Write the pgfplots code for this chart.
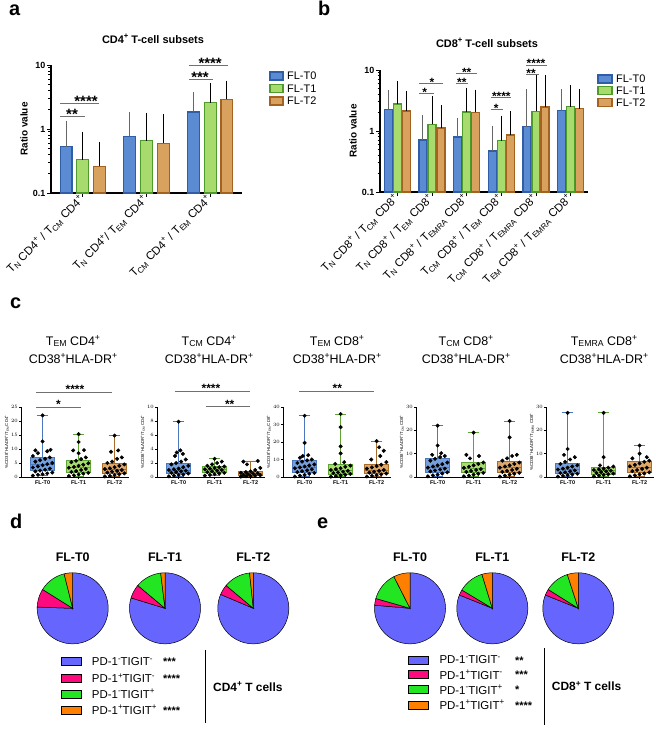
\documentclass[border=0pt]{standalone}
\usepackage{pgfplots}
\pgfplotsset{compat=1.18}
\usepackage{pgfplotstable}
\usepgfplotslibrary{statistics}
\usepackage{fontspec}
\setmainfont{Liberation Sans}
\newcommand\sub[1]{\raisebox{-0.3ex}{\scalebox{0.7}{#1}}}
\newcommand\su[1]{\raisebox{0.75ex}{\scalebox{0.7}{#1}}}
\newcommand\fs[1]{\fontsize{#1}{#1}\selectfont}
\pgfkeys{/tikz/ymode/.code={}}
\definecolor{bblue}{HTML}{5B8BD2}
\definecolor{bblueD}{HTML}{2F5EA6}
\definecolor{bgreen}{HTML}{A7DB6D}
\definecolor{bgreenD}{HTML}{4E9B2B}
\definecolor{borange}{HTML}{D9A15E}
\definecolor{borangeD}{HTML}{A3621F}
\definecolor{cblue}{HTML}{76A0DC}
\definecolor{cblueD}{HTML}{4A77BE}
\definecolor{cgreen}{HTML}{AADB72}
\definecolor{cgreenD}{HTML}{5EA536}
\definecolor{corange}{HTML}{DDA86A}
\definecolor{corangeD}{HTML}{A86C2A}
\definecolor{pblue}{HTML}{6666FF}
\definecolor{pmag}{HTML}{FF0A7E}
\definecolor{pgreen}{HTML}{22E622}
\definecolor{porange}{HTML}{FF8000}
\definecolor{sig}{HTML}{707070}

% panel a data: x, bar value, upper error
\pgfplotstableread{
x y e
0 0.53 0.64
1 0.77 0.81
2 1.85 1.43
}\aB
\pgfplotstableread{
x y e
0 0.33 0.46
1 0.66 0.89
2 2.57 1.93
}\aG
\pgfplotstableread{
x y e
0 0.26 0.29
1 0.60 0.89
2 2.90 2.05
}\aO
% panel b data
\pgfplotstableread{
x y e
0 2.27 1.87
1 0.71 0.94
2 0.80 0.68
3 0.47 0.62
4 1.18 3.17
5 2.15 2.15
}\bB
\pgfplotstableread{
x y e
0 2.77 3.03
1 1.29 2.06
2 2.05 2.55
3 0.69 0.90
4 2.10 5.30
5 2.50 2.50
}\bG
\pgfplotstableread{
x y e
0 2.13 1.97
1 1.12 1.23
2 2.02 2.23
3 0.86 1.04
4 2.47 4.93
5 2.32 2.08
}\bO

\pgfplotsset{
 sigline/.style={sig, line width=0.8bp, forget plot},
 boxax/.style={scale only axis, width=108bp, height=70bp, xmin=-0.6, xmax=2.4, ymin=0,
   axis x line*=bottom, axis y line*=left, axis line style={line width=0.7bp},
   tick align=outside, xtick pos=bottom, ytick pos=left, major tick length=2bp,
   tick style={line width=0.6bp, black},
   xtick={0,1,2}, xticklabels={FL-T0,FL-T1,FL-T2},
   xticklabel style={font=\fs{5.5}\bfseries, inner sep=1.5bp},
   yticklabel style={font=\fs{4.5}, inner sep=1bp},
   ylabel style={font=\fs{4.3}, inner sep=1bp},
   clip=false, anchor=south west},
 bx/.style n args={8}{boxplot prepared={draw position=#1, lower whisker=#2, lower quartile=#3,
   median=#4, upper quartile=#5, upper whisker=#6, box extend=0.68, whisker extend=0.32},
   /pgfplots/boxplot/draw direction=y,
   fill=#7, draw=#8, line width=0.7bp, forget plot},
 dots/.style={only marks, mark=*, mark size=1.8bp, black, forget plot},
 pie/.style={hide axis, scale only axis, width=71bp, height=71bp, xmin=-1, xmax=1, ymin=-1, ymax=1,
   anchor=center, clip=false},
 sl/.style={draw=black, line width=0.5bp, samples=80, data cs=polar},
}

\begin{document}
\begin{tikzpicture}
\useasboundingbox (0,0) rectangle (656bp,-729bp);

% ---------- panel letters ----------
\node[anchor=base west, font=\fs{20}\bfseries, inner sep=0] at (9bp,-15bp) {a};
\node[anchor=base west, font=\fs{20}\bfseries, inner sep=0] at (318bp,-15bp) {b};
\node[anchor=base west, font=\fs{20}\bfseries, inner sep=0] at (10bp,-308bp) {c};
\node[anchor=base west, font=\fs{20}\bfseries, inner sep=0] at (10bp,-528bp) {d};
\node[anchor=base west, font=\fs{20}\bfseries, inner sep=0] at (317bp,-528bp) {e};

% ---------- panel a ----------
\node[anchor=base, font=\fs{11}\bfseries, inner sep=0] at (153bp,-43bp) {CD4\su{+} T-cell subsets};
\begin{axis}[scale only axis, at={(51bp,-193bp)}, anchor=south west, width=191bp, height=128bp,
  ymode=log, log origin=infty, ymin=0.1, ymax=10, xmin=-0.5, xmax=2.5,
  axis x line*=bottom, axis y line*=left, axis line style={line width=1.2bp},
  tick align=outside, xtick pos=bottom, ytick pos=left,
  major tick length=4bp, minor tick length=2.5bp, tick style={line width=1bp, black},
  ytick={0.1,1,10}, yticklabels={0.1,1,10},
  minor ytick={0.2,0.3,0.4,0.5,0.6,0.7,0.8,0.9,2,3,4,5,6,7,8,9},
  yticklabel style={font=\fs{9}\bfseries, inner sep=1.5bp},
  xticklabel style={font=\fs{11.5}, rotate=45, anchor=east, inner sep=1bp},
  ylabel={Ratio value}, ylabel style={font=\fs{10}\bfseries},
  clip=false, xtick={0,1,2},
  xticklabels={{T\sub{N} CD4\su{+} / T\sub{CM} CD4\su{+}},{T\sub{N} CD4\su{+}/ T\sub{EM} CD4\su{+}},{T\sub{CM} CD4\su{+} / T\sub{EM} CD4\su{+}}}]
\addplot[ybar, bar width=0.188, bar shift=0, fill=bblue, draw=bblueD, line width=1.2bp,
  error bars/.cd, y dir=plus, y explicit, error bar style={line width=1bp, black!60}, error mark options={line width=1bp, black!60, mark size=4bp}]
  table[x expr=\thisrow{x}-0.263, y=y, y error=e] {\aB};
\addplot[ybar, bar width=0.188, bar shift=0, fill=bgreen, draw=bgreenD, line width=1.2bp,
  error bars/.cd, y dir=plus, y explicit, error bar style={line width=1bp, black}, error mark options={line width=1bp, black, mark size=4bp}]
  table[x=x, y=y, y error=e] {\aG};
\addplot[ybar, bar width=0.188, bar shift=0, fill=borange, draw=borangeD, line width=1.2bp,
  error bars/.cd, y dir=plus, y explicit, error bar style={line width=1bp, black}, error mark options={line width=1bp, black, mark size=4bp}]
  table[x expr=\thisrow{x}+0.263, y=y, y error=e] {\aO};
\addplot[sigline] coordinates {(-0.36,1.55) (0.04,1.55)};
\addplot[sigline] coordinates {(-0.36,2.5) (0.255,2.5)};
\addplot[sigline] coordinates {(1.67,5.98) (2.05,5.98)};
\addplot[sigline] coordinates {(1.67,10) (2.28,10)};
\node[anchor=base, font=\fs{15}\bfseries, inner sep=0, yshift=-3bp] at (axis cs:-0.17,1.55) {**};
\node[anchor=base, font=\fs{15}\bfseries, inner sep=0, yshift=-3bp] at (axis cs:0.05,2.5) {****};
\node[anchor=base, font=\fs{15}\bfseries, inner sep=0, yshift=-3bp] at (axis cs:1.84,5.98) {***};
\node[anchor=base, font=\fs{15}\bfseries, inner sep=0, yshift=-3bp] at (axis cs:2.0,10) {****};
\end{axis}
% legend a
\foreach \y/\f/\d/\t in {76/bblue/bblueD/FL-T0, 88.5/bgreen/bgreenD/FL-T1, 101/borange/borangeD/FL-T2}{
  \draw[fill=\f, draw=\d, line width=1.2bp] (270bp,-\y bp+4bp) rectangle (283bp,-\y bp-4bp);
  \node[anchor=west, font=\fs{11}, inner sep=0] at (287bp,-\y bp) {\t};
}

% ---------- panel b ----------
\node[anchor=base, font=\fs{11}\bfseries, inner sep=0] at (487bp,-47bp) {CD8\su{+} T-cell subsets};
\begin{axis}[scale only axis, at={(380bp,-192bp)}, anchor=south west, width=208bp, height=122bp,
  ymode=log, log origin=infty, ymin=0.1, ymax=10, xmin=-0.5, xmax=5.5,
  axis x line*=bottom, axis y line*=left, axis line style={line width=1.2bp},
  tick align=outside, xtick pos=bottom, ytick pos=left,
  major tick length=4bp, minor tick length=2.5bp, tick style={line width=1bp, black},
  ytick={0.1,1,10}, yticklabels={0.1,1,10},
  minor ytick={0.2,0.3,0.4,0.5,0.6,0.7,0.8,0.9,2,3,4,5,6,7,8,9},
  yticklabel style={font=\fs{9}\bfseries, inner sep=1.5bp},
  xticklabel style={font=\fs{11.5}, rotate=45, anchor=east, inner sep=1bp},
  ylabel={Ratio value}, ylabel style={font=\fs{10}\bfseries},
  clip=false, xtick={0,1,2,3,4,5},
  xticklabels={{T\sub{N} CD8\su{+} / T\sub{CM} CD8\su{+}},{T\sub{N} CD8\su{+} / T\sub{EM} CD8\su{+}},{T\sub{N} CD8\su{+} / T\sub{EMRA} CD8\su{+}},{T\sub{CM} CD8\su{+} / T\sub{EM} CD8\su{+}},{T\sub{CM} CD8\su{+} / T\sub{EMRA} CD8\su{+}},{T\sub{EM} CD8\su{+} / T\sub{EMRA} CD8\su{+}}}]
\addplot[ybar, bar width=0.23, bar shift=0, fill=bblue, draw=bblueD, line width=1.2bp,
  error bars/.cd, y dir=plus, y explicit, error bar style={line width=1bp, black!60}, error mark options={line width=1bp, black!60, mark size=3bp}]
  table[x expr=\thisrow{x}-0.26, y=y, y error=e] {\bB};
\addplot[ybar, bar width=0.23, bar shift=0, fill=bgreen, draw=bgreenD, line width=1.2bp,
  error bars/.cd, y dir=plus, y explicit, error bar style={line width=1bp, black}, error mark options={line width=1bp, black, mark size=3bp}]
  table[x=x, y=y, y error=e] {\bG};
\addplot[ybar, bar width=0.23, bar shift=0, fill=borange, draw=borangeD, line width=1.2bp,
  error bars/.cd, y dir=plus, y explicit, error bar style={line width=1bp, black}, error mark options={line width=1bp, black, mark size=3bp}]
  table[x expr=\thisrow{x}+0.26, y=y, y error=e] {\bO};
\addplot[sigline] coordinates {(0.63,4.15) (1.06,4.15)};
\addplot[sigline] coordinates {(0.63,6.04) (1.33,6.04)};
\addplot[sigline] coordinates {(1.68,6.0) (2.03,6.0)};
\addplot[sigline] coordinates {(1.68,8.8) (2.3,8.8)};
\addplot[sigline] coordinates {(2.69,2.27) (3.04,2.27)};
\addplot[sigline] coordinates {(2.69,3.57) (3.29,3.57)};
\addplot[sigline] coordinates {(3.72,8.6) (4.1,8.6)};
\addplot[sigline] coordinates {(3.72,12.1) (4.32,12.1)};
\node[anchor=base, font=\fs{12}\bfseries, inner sep=0, yshift=-3bp] at (axis cs:0.79,4.15) {*};
\node[anchor=base, font=\fs{12}\bfseries, inner sep=0, yshift=-3bp] at (axis cs:1.0,6.04) {*};
\node[anchor=base, font=\fs{12}\bfseries, inner sep=0, yshift=-3bp] at (axis cs:1.86,6.0) {**};
\node[anchor=base, font=\fs{12}\bfseries, inner sep=0, yshift=-3bp] at (axis cs:2.0,8.8) {**};
\node[anchor=base, font=\fs{12}\bfseries, inner sep=0, yshift=-3bp] at (axis cs:2.85,2.27) {*};
\node[anchor=base, font=\fs{12}\bfseries, inner sep=0, yshift=-3bp] at (axis cs:3.0,3.57) {****};
\node[anchor=base, font=\fs{12}\bfseries, inner sep=0, yshift=-3bp] at (axis cs:3.86,8.6) {**};
\node[anchor=base, font=\fs{12}\bfseries, inner sep=0, yshift=-3bp] at (axis cs:4.0,12.1) {****};
\end{axis}
% legend b
\foreach \y/\f/\d/\t in {79/bblue/bblueD/FL-T0, 90.7/bgreen/bgreenD/FL-T1, 102.3/borange/borangeD/FL-T2}{
  \draw[fill=\f, draw=\d, line width=1.2bp] (598bp,-\y bp+4bp) rectangle (612bp,-\y bp-4bp);
  \node[anchor=west, font=\fs{11}, inner sep=0] at (616bp,-\y bp) {\t};
}

% ---------- panel c titles ----------
\foreach \cx/\ta in {73/{T\sub{EM} CD4\su{+}}, 209/{T\sub{CM} CD4\su{+}}, 337/{T\sub{EM} CD8\su{+}}, 466/{T\sub{CM} CD8\su{+}}, 604/{T\sub{EMRA} CD8\su{+}}}{
  \node[anchor=base, font=\fs{12.5}, inner sep=0] at (\cx bp,-345bp) {\ta};
  \node[anchor=base, font=\fs{12.5}, inner sep=0] at (\cx bp,-363bp) {CD38\su{+}HLA-DR\su{+}};
}

% c1
\begin{axis}[boxax, at={(21bp,-477bp)}, ymax=25, ytick={0,5,10,15,20,25},
  ylabel={\%CD38\su{+}HLADR\su{+}/T\sub{EM} CD4\su{+}}]
\addplot[bx={0}{0.5}{2.3}{4.6}{7.0}{22}{cblue}{cblueD}] coordinates {};
\addplot[bx={1}{0.3}{1.8}{3.6}{5.8}{15.3}{cgreen}{cgreenD}] coordinates {};
\addplot[bx={2}{0.2}{1.3}{2.8}{4.8}{14.8}{corange}{corangeD}] coordinates {};
\addplot[dots] coordinates {(-0.27,0.5) (-0.13,0.8) (0,1.0) (0.13,1.3) (0.27,1.6) (-0.2,2.0) (-0.07,2.3) (0.07,2.6) (0.2,3.0) (-0.27,3.4) (-0.13,3.8) (0,4.2) (0.13,4.6) (0.27,5.0) (-0.2,5.5) (-0.07,6.0) (0.07,6.5) (0.2,7.0) (-0.27,7.5) (-0.13,8.5) (0.13,9.2) (-0.2,9.5) (0.22,9.7) (0,12.7) (0,22)};
\addplot[dots] coordinates {(0.73,0.3) (0.87,0.6) (1,0.9) (1.13,1.2) (1.27,1.5) (0.8,1.8) (0.93,2.1) (1.07,2.5) (1.2,2.9) (0.73,3.3) (0.87,3.6) (1,4.0) (1.13,4.4) (1.27,4.9) (0.8,5.3) (0.93,5.8) (1.07,6.4) (1.2,7.0) (1,8.5) (0.85,9.5) (1.15,9.6) (1,12.5) (1,15.3)};
\addplot[dots] coordinates {(1.73,0.2) (1.87,0.4) (2,0.7) (2.13,1.0) (2.27,1.3) (1.8,1.6) (1.93,1.9) (2.07,2.2) (2.2,2.5) (1.73,2.8) (1.87,3.1) (2,3.5) (2.13,4.0) (2.27,4.5) (1.8,5.0) (1.93,5.5) (2.07,6.5) (2.2,7.0) (1.9,9.0) (2.1,9.5) (2,14.8)};
\addplot[sigline, line width=0.6bp] coordinates {(-0.18,25) (1.07,25)};
\addplot[sigline, line width=0.6bp] coordinates {(-0.18,30.4) (1.93,30.4)};
\node[anchor=base, font=\fs{12}\bfseries, inner sep=0, yshift=-1.5bp] at (axis cs:0.44,25) {*};
\node[anchor=base, font=\fs{12}\bfseries, inner sep=0, yshift=-1.5bp] at (axis cs:0.9,30.4) {****};
\end{axis}

% c2
\begin{axis}[boxax, at={(157bp,-477bp)}, ymax=10, ytick={0,2,4,6,8,10},
  ylabel={\%CD38\su{+}HLADR\su{+}/T\sub{CM} CD4\su{+}}]
\addplot[bx={0}{0.1}{0.5}{1.0}{2.0}{7.9}{cblue}{cblueD}] coordinates {};
\addplot[bx={1}{0.2}{0.6}{1.1}{1.5}{2.6}{cgreen}{cgreenD}] coordinates {};
\addplot[bx={2}{0.05}{0.2}{0.5}{0.8}{2.3}{corange}{corangeD}] coordinates {};
\addplot[dots] coordinates {(-0.27,0.1) (-0.13,0.2) (0,0.3) (0.13,0.35) (0.27,0.5) (-0.2,0.6) (-0.07,0.7) (0.07,0.8) (0.2,0.9) (-0.27,1.0) (-0.13,1.1) (0,1.2) (0.13,1.4) (0.27,1.6) (-0.2,1.8) (-0.07,2.0) (0.07,2.2) (0.2,2.5) (-0.1,3.0) (0.12,3.3) (-0.05,3.5) (0.05,3.8) (0,7.9)};
\addplot[dots] coordinates {(0.73,0.2) (0.87,0.3) (1,0.4) (1.13,0.5) (1.27,0.6) (0.8,0.7) (0.93,0.8) (1.07,0.9) (1.2,1.0) (0.73,1.1) (0.87,1.2) (1,1.3) (1.13,1.4) (1.27,1.5) (0.8,1.6) (0.93,1.8) (1.07,2.0) (1.2,2.2) (1,2.6)};
\addplot[dots] coordinates {(1.73,0.05) (1.87,0.1) (2,0.15) (2.13,0.2) (2.27,0.25) (1.8,0.3) (1.93,0.4) (2.07,0.5) (2.2,0.55) (1.73,0.6) (1.87,0.7) (2,0.8) (2.13,1.0) (2.27,1.3) (1.9,1.8) (1.8,2.2) (2.2,2.3)};
\addplot[sigline, line width=0.6bp] coordinates {(0.75,10.05) (1.97,10.05)};
\addplot[sigline, line width=0.6bp] coordinates {(-0.11,12.3) (1.97,12.3)};
\node[anchor=base, font=\fs{12}\bfseries, inner sep=0, yshift=-1.5bp] at (axis cs:1.42,10.05) {**};
\node[anchor=base, font=\fs{12}\bfseries, inner sep=0, yshift=-1.5bp] at (axis cs:0.9,12.3) {****};
\end{axis}

% c3
\begin{axis}[boxax, at={(283bp,-477bp)}, ymax=40, ytick={0,10,20,30,40},
  ylabel={\%CD38\su{+}HLADR\su{+}/T\sub{EM} CD8\su{+}}]
\addplot[bx={0}{0.3}{2.6}{5.5}{9.5}{35}{cblue}{cblueD}] coordinates {};
\addplot[bx={1}{0.2}{1.8}{3.8}{7.5}{36}{cgreen}{cgreenD}] coordinates {};
\addplot[bx={2}{0.3}{2.0}{4.0}{7.0}{20.5}{corange}{corangeD}] coordinates {};
\addplot[dots] coordinates {(-0.27,0.3) (-0.13,0.8) (0,1.2) (0.13,1.8) (0.27,2.3) (-0.2,2.8) (-0.07,3.3) (0.07,3.8) (0.2,4.4) (-0.27,5.0) (-0.13,5.5) (0,6.0) (0.13,6.6) (0.27,7.2) (-0.2,8.0) (-0.07,8.8) (0.07,9.5) (0.2,10) (-0.13,11) (-0.05,12) (0.1,12.5) (0,19.5) (0,35)};
\addplot[dots] coordinates {(0.73,0.2) (0.87,0.5) (1,0.9) (1.13,1.3) (1.27,1.8) (0.8,2.2) (0.93,2.6) (1.07,3.0) (1.2,3.5) (0.73,4.0) (0.87,4.5) (1,5.0) (1.13,5.8) (1.27,6.5) (0.85,7.5) (1.1,8.5) (1,13.5) (1,17.5) (1,28.5) (1,36)};
\addplot[dots] coordinates {(1.73,0.3) (1.87,0.7) (2,1.1) (2.13,1.5) (2.27,2.0) (1.8,2.5) (1.93,3.0) (2.07,3.5) (2.2,4.0) (1.73,4.8) (1.87,5.5) (2,6.2) (2.13,7.0) (2.27,8.5) (1.85,10) (2.1,12) (2.2,15) (2.07,17) (2,20.5)};
\addplot[sigline, line width=0.6bp] coordinates {(-0.15,49) (1.94,49)};
\node[anchor=base, font=\fs{12}\bfseries, inner sep=0, yshift=-1.5bp] at (axis cs:0.91,49) {**};
\end{axis}

% c4
\begin{axis}[boxax, at={(416bp,-477bp)}, ymax=30, ytick={0,10,20,30},
  ylabel={\%CD38\su{+}HLADR\su{+}/T\sub{CM} CD8\su{+}}]
\addplot[bx={0}{0.3}{2.2}{4.2}{8.0}{22}{cblue}{cblueD}] coordinates {};
\addplot[bx={1}{0.3}{1.8}{3.6}{6.2}{19}{cgreen}{cgreenD}] coordinates {};
\addplot[bx={2}{0.2}{2.0}{4.2}{6.5}{24}{corange}{corangeD}] coordinates {};
\addplot[dots] coordinates {(-0.27,0.3) (-0.13,0.7) (0,1.0) (0.13,1.5) (0.27,2.0) (-0.2,2.4) (-0.07,2.8) (0.07,3.2) (0.2,3.6) (-0.27,4.0) (-0.13,4.5) (0,5.0) (0.13,5.5) (0.27,6.2) (-0.2,7.0) (-0.07,7.8) (0.07,8.5) (0.2,9.0) (-0.15,9.5) (0.1,10.2) (0,13.5) (0,22)};
\addplot[dots] coordinates {(0.73,0.3) (0.87,0.6) (1,1.0) (1.13,1.4) (1.27,1.8) (0.8,2.2) (0.93,2.6) (1.07,3.0) (1.2,3.4) (0.73,3.9) (0.87,4.4) (1,5.0) (1.13,5.6) (1.27,6.2) (0.9,8.0) (1.15,9.0) (0.8,9.5) (1,19)};
\addplot[dots] coordinates {(1.73,0.2) (1.87,0.6) (2,1.0) (2.13,1.4) (2.27,1.8) (1.8,2.2) (1.93,2.6) (2.07,3.0) (2.2,3.5) (1.73,4.0) (1.87,4.5) (2,5.0) (2.13,5.6) (2.27,6.2) (1.8,7.0) (1.93,8.0) (2.07,9.0) (2.2,9.5) (2,17) (2,24)};
\end{axis}

% c5
\begin{axis}[boxax, at={(546bp,-477bp)}, ymax=30, ytick={0,10,20,30},
  ylabel={\%CD38\su{+}HLADR\su{+}/T\sub{EMRA} CD8\su{+}}]
\addplot[bx={0}{0.2}{1.4}{3.2}{6.0}{27.5}{cblue}{cblueD}] coordinates {};
\addplot[bx={1}{0.3}{1.2}{2.7}{4.0}{27.5}{cgreen}{cgreenD}] coordinates {};
\addplot[bx={2}{0.3}{2.0}{4.3}{6.5}{13.5}{corange}{corangeD}] coordinates {};
\addplot[dots] coordinates {(-0.27,0.2) (-0.13,0.5) (0,0.8) (0.13,1.1) (0.27,1.4) (-0.2,1.7) (-0.07,2.0) (0.07,2.4) (0.2,2.8) (-0.27,3.2) (-0.13,3.6) (0,4.0) (0.13,4.5) (0.27,5.0) (-0.2,5.6) (-0.07,6.5) (0.07,7.5) (0.2,8.5) (-0.1,9.5) (0,12) (0,27.5)};
\addplot[dots] coordinates {(0.73,0.3) (0.87,0.6) (1,0.9) (1.13,1.2) (1.27,1.5) (0.8,1.8) (0.93,2.1) (1.07,2.4) (1.2,2.7) (0.73,3.0) (0.87,3.3) (1,3.6) (1.13,4.0) (1.27,4.5) (0.9,5.0) (1,8.5) (1,27.5)};
\addplot[dots] coordinates {(1.73,0.3) (1.87,0.7) (2,1.1) (2.13,1.5) (2.27,2.0) (1.8,2.5) (1.93,3.0) (2.07,3.5) (2.2,4.0) (1.73,4.6) (1.87,5.2) (2,5.8) (2.13,6.5) (2.27,7.0) (1.8,8.0) (2.2,8.5) (2,10) (2,13.5)};
\end{axis}

% ---------- pie titles ----------
\foreach \cx/\tt in {72.7/FL-T0, 165/FL-T1, 253.3/FL-T2, 410/FL-T0, 492.3/FL-T1, 578.3/FL-T2}{
  \node[anchor=base, font=\fs{12.5}\bfseries, inner sep=0] at (\cx bp,-561.5bp) {\tt};
}
% slices: (angle in degrees, radius) drawn clockwise from 12 o'clock: blue, magenta, green, orange
\begin{axis}[pie, at={(72.7bp,-608.3bp)}]
\addplot[sl, fill=pblue, domain=90:-182] ({x},{1}) -- (axis cs:0,0) -- cycle;
\addplot[sl, fill=pmag, domain=-182:-212] ({x},{1}) -- (axis cs:0,0) -- cycle;
\addplot[sl, fill=pgreen, domain=-212:-256] ({x},{1}) -- (axis cs:0,0) -- cycle;
\addplot[sl, fill=porange, domain=-256:-270] ({x},{1}) -- (axis cs:0,0) -- cycle;
\end{axis}
\begin{axis}[pie, at={(165bp,-608.3bp)}]
\addplot[sl, fill=pblue, domain=90:-197] ({x},{1}) -- (axis cs:0,0) -- cycle;
\addplot[sl, fill=pmag, domain=-197:-220] ({x},{1}) -- (axis cs:0,0) -- cycle;
\addplot[sl, fill=pgreen, domain=-220:-263] ({x},{1}) -- (axis cs:0,0) -- cycle;
\addplot[sl, fill=porange, domain=-263:-270] ({x},{1}) -- (axis cs:0,0) -- cycle;
\end{axis}
\begin{axis}[pie, at={(253.3bp,-608.3bp)}]
\addplot[sl, fill=pblue, domain=90:-203] ({x},{1}) -- (axis cs:0,0) -- cycle;
\addplot[sl, fill=pmag, domain=-203:-220] ({x},{1}) -- (axis cs:0,0) -- cycle;
\addplot[sl, fill=pgreen, domain=-220:-264] ({x},{1}) -- (axis cs:0,0) -- cycle;
\addplot[sl, fill=porange, domain=-264:-270] ({x},{1}) -- (axis cs:0,0) -- cycle;
\end{axis}
\begin{axis}[pie, at={(410bp,-608.3bp)}]
\addplot[sl, fill=pblue, domain=90:-185] ({x},{1}) -- (axis cs:0,0) -- cycle;
\addplot[sl, fill=pmag, domain=-185:-196] ({x},{1}) -- (axis cs:0,0) -- cycle;
\addplot[sl, fill=pgreen, domain=-196:-243] ({x},{1}) -- (axis cs:0,0) -- cycle;
\addplot[sl, fill=porange, domain=-243:-270] ({x},{1}) -- (axis cs:0,0) -- cycle;
\end{axis}
\begin{axis}[pie, at={(492.3bp,-608.3bp)}]
\addplot[sl, fill=pblue, domain=90:-202] ({x},{1}) -- (axis cs:0,0) -- cycle;
\addplot[sl, fill=pmag, domain=-202:-211] ({x},{1}) -- (axis cs:0,0) -- cycle;
\addplot[sl, fill=pgreen, domain=-211:-253] ({x},{1}) -- (axis cs:0,0) -- cycle;
\addplot[sl, fill=porange, domain=-253:-270] ({x},{1}) -- (axis cs:0,0) -- cycle;
\end{axis}
\begin{axis}[pie, at={(578.3bp,-608.3bp)}]
\addplot[sl, fill=pblue, domain=90:-202] ({x},{1}) -- (axis cs:0,0) -- cycle;
\addplot[sl, fill=pmag, domain=-202:-212] ({x},{1}) -- (axis cs:0,0) -- cycle;
\addplot[sl, fill=pgreen, domain=-212:-252] ({x},{1}) -- (axis cs:0,0) -- cycle;
\addplot[sl, fill=porange, domain=-252:-270] ({x},{1}) -- (axis cs:0,0) -- cycle;
\end{axis}

% ---------- pie legends ----------
\foreach \y/\col/\lab/\st in {661.7/pblue/{PD-1\su{-}TIGIT\su{-}}/***, 678.3/pmag/{PD-1\su{+}TIGIT\su{-}}/****, 694/pgreen/{PD-1\su{-}TIGIT\su{+}}/{}, 710/porange/{PD-1\su{+}TIGIT\su{+}}/****}{
  \draw[fill=\col, draw=black, line width=0.9bp] (61.7bp,-\y bp+4bp) rectangle (81.7bp,-\y bp-4bp);
  \node[anchor=west, font=\fs{11.5}, inner sep=0] at (91.7bp,-\y bp) {\lab};
  \node[anchor=base west, font=\fs{11}\bfseries, inner sep=0] at (163bp,-\y bp-4bp) {\st};
}
\draw[line width=0.8bp] (205bp,-650bp) -- (205bp,-723bp);
\node[anchor=west, font=\fs{12}\bfseries, inner sep=0] at (213bp,-686.7bp) {CD4\su{+} T cells};

\foreach \y/\col/\lab/\st in {660/pblue/{PD-1\su{-}TIGIT\su{-}}/**, 674.5/pmag/{PD-1\su{+}TIGIT\su{-}}/***, 689.5/pgreen/{PD-1\su{-}TIGIT\su{+}}/*, 705/porange/{PD-1\su{+}TIGIT\su{+}}/****}{
  \draw[fill=\col, draw=black, line width=0.9bp] (408.3bp,-\y bp+4bp) rectangle (428.3bp,-\y bp-4bp);
  \node[anchor=west, font=\fs{11.5}, inner sep=0] at (439.3bp,-\y bp) {\lab};
  \node[anchor=base west, font=\fs{11}\bfseries, inner sep=0] at (515bp,-\y bp-4bp) {\st};
}
\draw[line width=0.8bp] (544bp,-648bp) -- (544bp,-725bp);
\node[anchor=west, font=\fs{12}\bfseries, inner sep=0] at (551.7bp,-686bp) {CD8\su{+} T cells};
\end{tikzpicture}
\end{document}
